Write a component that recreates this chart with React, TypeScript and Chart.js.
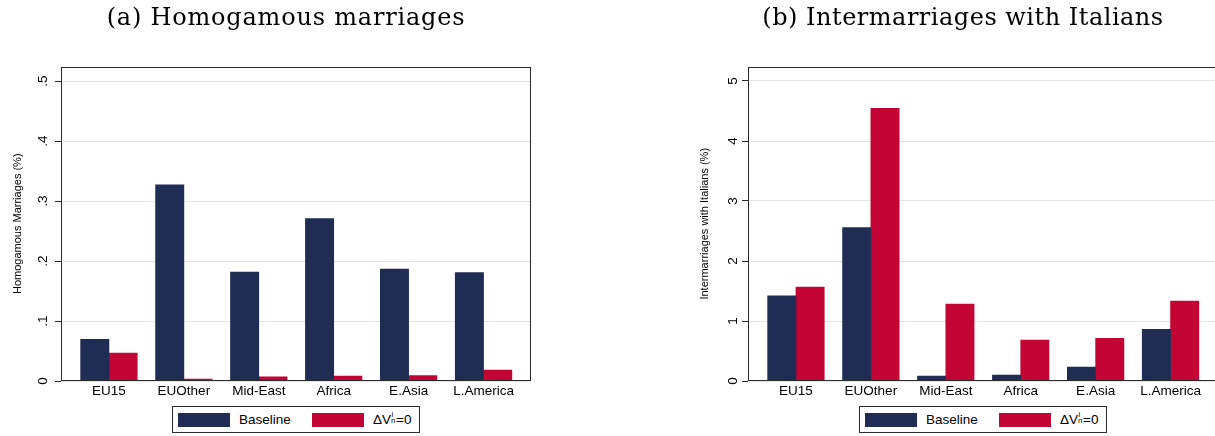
import React, { useEffect, useRef } from 'react';
import { Chart, registerables } from 'chart.js';

Chart.register(...registerables);

// ---------- data ----------
const categories = ['EU15', 'EUOther', 'Mid-East', 'Africa', 'E.Asia', 'L.America'];
const homBaseline = [0.0695, 0.327, 0.1815, 0.2705, 0.1865, 0.1805];
const homNoPref = [0.0465, 0.003, 0.007, 0.008, 0.009, 0.018];
const interBaseline = [1.42, 2.555, 0.08, 0.1, 0.233, 0.86];
const interNoPref = [1.567, 4.545, 1.283, 0.683, 0.71, 1.33];
const homTicks = [0, 0.1, 0.2, 0.3, 0.4, 0.5];
const homTickLabels = ['0', '.1', '.2', '.3', '.4', '.5'];
const interTicks = [0, 1, 2, 3, 4, 5];
const interTickLabels = ['0', '1', '2', '3', '4', '5'];
const seriesNames = ['Baseline', 'ΔV=0'];

const NAVY = '#1f2d54';
const RED = '#c20535';
const SANS = '"Liberation Sans", Arial, Helvetica, sans-serif';

// layout constants (px)
const CANVAS_H = 436;
const AXIS_W = 61;
const PLOT_W = 469;
const PLOT_TOP = 66.5;
const PLOT_BOTTOM = 381;

const framePlugin = {
  id: 'frame',
  afterDatasetsDraw(chart: any) {
    const { ctx, chartArea } = chart;
    const l = Math.round(chartArea.left) + 0.5;
    const t = Math.round(chartArea.top) + 0.5;
    const r = Math.round(chartArea.right) + 0.5;
    const b = Math.round(chartArea.bottom) - 0.5;
    ctx.save();
    ctx.strokeStyle = '#2a2a2a';
    ctx.lineWidth = 1;
    ctx.strokeRect(l, t, r - l, b - t);
    ctx.restore();
  },
};

type PanelProps = {
  left: number;
  width: number;
  baseline: number[];
  alt: number[];
  ticks: number[];
  tickLabels: string[];
  yTitle: string;
  tickPad: number;
};

function BarPanel({ left, width, baseline, alt, ticks, tickLabels, yTitle, tickPad }: PanelProps) {
  const ref = useRef<HTMLCanvasElement>(null);
  useEffect(() => {
    const topTick = ticks[ticks.length - 1];
    const yMax = (topTick * (PLOT_BOTTOM - PLOT_TOP)) / (PLOT_BOTTOM - 81);
    const chart = new Chart(ref.current as HTMLCanvasElement, {
      type: 'bar',
      data: {
        datasets: [
          {
            label: seriesNames[0],
            data: categories.map((_, i) => ({ x: i, y: baseline[i] })),
            backgroundColor: NAVY,
            barThickness: 28.3,
          },
          {
            label: seriesNames[1],
            data: categories.map((_, i) => ({ x: i, y: alt[i] })),
            backgroundColor: RED,
            barThickness: 28.3,
          },
        ],
      } as any,
      options: {
        responsive: false,
        animation: false,
        events: [],
        layout: {
          padding: { left: 0, top: PLOT_TOP, right: width - AXIS_W - PLOT_W, bottom: 0 },
        },
        plugins: {
          legend: { display: false },
          tooltip: { enabled: false },
        },
        scales: {
          x: {
            type: 'linear',
            min: -0.64,
            max: 5.62,
            offset: false,
            grid: { display: false, drawTicks: false, tickLength: 0, offset: false },
            border: { display: false },
            afterBuildTicks: (s: any) => {
              s.ticks = categories.map((_, i) => ({ value: i }));
            },
            afterFit: (s: any) => {
              s.height = CANVAS_H - PLOT_BOTTOM;
            },
            ticks: {
              autoSkip: false,
              minRotation: 0,
              maxRotation: 0,
              padding: 2,
              color: '#000',
              font: { family: SANS, size: 13.5 },
              callback: (v: any) => categories[Math.round(Number(v))] ?? '',
            },
          },
          y: {
            type: 'linear',
            min: 0,
            max: yMax,
            grid: {
              color: '#e4e4e4',
              tickColor: '#2a2a2a',
              tickLength: 6,
              drawTicks: true,
              lineWidth: 1,
            },
            border: { display: false },
            afterBuildTicks: (s: any) => {
              s.ticks = ticks.map((v) => ({ value: v }));
            },
            afterFit: (s: any) => {
              s.width = AXIS_W;
            },
            ticks: {
              autoSkip: false,
              minRotation: 90,
              maxRotation: 90,
              crossAlign: 'center',
              padding: tickPad,
              color: '#000',
              font: { family: SANS, size: 13.5 },
              callback: (_v: any, i: number) => tickLabels[i],
            },
            title: {
              display: true,
              text: yTitle,
              color: '#000',
              font: { family: SANS, size: 11 },
              padding: { top: 11, bottom: 0 },
            },
          },
        },
      } as any,
      plugins: [framePlugin],
    });
    return () => chart.destroy();
  }, []);
  return (
    <div style={{ position: 'absolute', left, top: 0, width, height: CANVAS_H }}>
      <canvas ref={ref} width={width} height={CANVAS_H} style={{ width, height: CANVAS_H, display: 'block' }} />
    </div>
  );
}

function Legend({ left }: { left: number }) {
  const text: React.CSSProperties = {
    position: 'absolute',
    top: 0,
    height: 25,
    lineHeight: '25px',
    fontFamily: SANS,
    fontSize: 13.5,
    color: '#000',
    whiteSpace: 'nowrap',
  };
  const sw = (color: string, x: number): React.CSSProperties => ({
    position: 'absolute',
    left: x,
    top: 6.3,
    width: 52,
    height: 14,
    background: color,
  });
  return (
    <div
      style={{
        position: 'absolute',
        left,
        top: 406,
        width: 248,
        height: 27,
        boxSizing: 'border-box',
        border: '1px solid #2a2a2a',
        background: '#fff',
      }}
    >
      <div style={sw(NAVY, 5.3)} />
      <div style={{ ...text, left: 66 }}>{seriesNames[0]}</div>
      <div style={sw(RED, 139.3)} />
      <div style={{ ...text, left: 200 }}>
        ΔV
        <span style={{ display: 'inline-block', position: 'relative', width: 5, height: '1em' }}>
          <span style={{ position: 'absolute', left: 0.5, top: 0, fontSize: 8, lineHeight: '8px', color: '#000' }}>i</span>
          <span style={{ position: 'absolute', left: 0, bottom: -1, fontSize: 8, lineHeight: '8px', color: '#000' }}>n</span>
        </span>
        =0
      </div>
    </div>
  );
}

const titleStyle: React.CSSProperties = {
  position: 'absolute',
  top: 2,
  width: 500,
  textAlign: 'center',
  fontFamily: '"DejaVu Serif", "Liberation Serif", serif',
  fontSize: 24,
  lineHeight: '30px',
  letterSpacing: 0.5,
  color: '#000',
  whiteSpace: 'nowrap',
};

export default function App() {
  return (
    <div
      style={{
        position: 'fixed',
        left: 0,
        top: 0,
        width: 1215,
        height: 436,
        overflow: 'hidden',
        background: '#fff',
      }}
    >
      <BarPanel
        left={0}
        width={600}
        baseline={homBaseline}
        alt={homNoPref}
        ticks={homTicks}
        tickLabels={homTickLabels}
        yTitle="Homogamous Marriages (%)"
        tickPad={6}
      />
      <BarPanel
        left={686.7}
        width={553}
        baseline={interBaseline}
        alt={interNoPref}
        ticks={interTicks}
        tickLabels={interTickLabels}
        yTitle="Intermarriages with Italians (%)"
        tickPad={5}
      />
      <div style={{ ...titleStyle, left: 286 - 250, letterSpacing: 0.8 }}>(a) Homogamous marriages</div>
      <div style={{ ...titleStyle, left: 963 - 250 }}>(b) Intermarriages with Italians</div>
      <Legend left={172} />
      <Legend left={859} />
    </div>
  );
}
